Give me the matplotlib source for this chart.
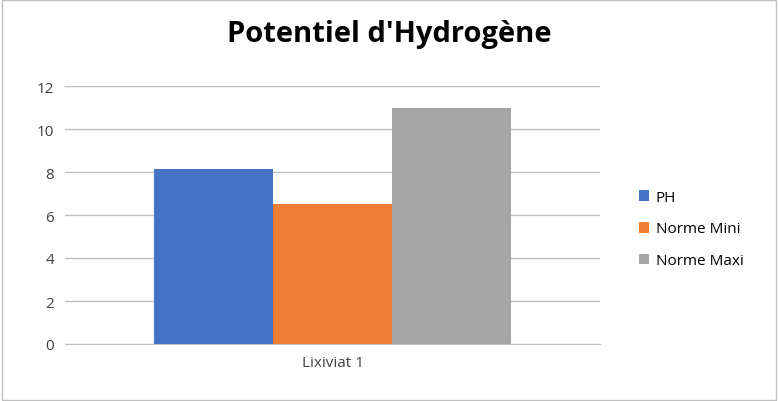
import matplotlib.pyplot as plt
import numpy as np

categories = ['Lixiviat 1']
series = ['PH', 'Norme Mini', 'Norme Maxi']
values = [[8.15], [6.5], [11.0]]
colors = ['#4472C4', '#ED7D31', '#A5A5A5']

plt.rcParams['font.family'] = ['Open Sans', 'DejaVu Sans']
fig = plt.figure(figsize=(7.78, 4.02), dpi=100)
ax = fig.add_axes([65 / 778, 1 - 345 / 402, 535 / 778, 258 / 402])

x = np.arange(len(categories))
w = 0.222
for i, (name, vals) in enumerate(zip(series, values)):
    ax.bar(x + (i - 1) * w, vals, width=w, color=colors[i], label=name, zorder=3)

ax.set_xlim(-0.5, 0.5)
ax.set_ylim(0, 12)
ax.set_yticks(range(0, 13, 2))
ax.set_xticks(x)
ax.set_xticklabels(categories)
ax.grid(axis='y', color='#BFBFBF', linewidth=1, zorder=0)
for s in ['top', 'right', 'left']:
    ax.spines[s].set_visible(False)
ax.spines['bottom'].set_color('#BFBFBF')
ax.tick_params(length=0, labelsize=11, colors='#404040', pad=8)

fig.text(0.5, 0.895, "Potentiel d'Hydrogène", ha='center', fontsize=21, fontweight='bold', color='black')
fig.legend(loc='center left', bbox_to_anchor=(625 / 778, 1 - 230 / 402), frameon=False,
           fontsize=11, handlelength=0.7, handleheight=0.7, labelspacing=1.1, handletextpad=0.4)
fig.patches.append(plt.Rectangle((0.002, 0.003), 0.996, 0.994, transform=fig.transFigure,
                                 fill=False, edgecolor='#BFBFBF', linewidth=1))
fig.savefig('out.png', dpi=100)
